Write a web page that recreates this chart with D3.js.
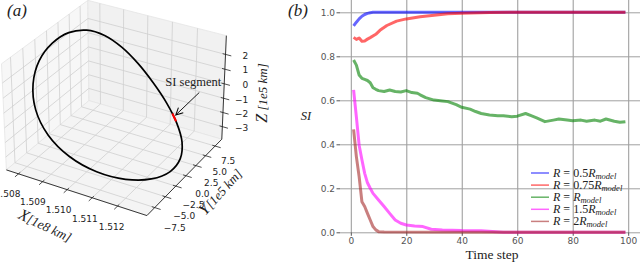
<!DOCTYPE html>
<html>
<head>
<meta charset="utf-8">
<script src="https://cdn.jsdelivr.net/npm/d3@7"></script>
<style>
  body { margin: 0; background: #fff; }
  svg { display: block; }
</style>
</head>
<body>
<div id="chart"></div>
<script>
// ---------- panel (a): orbit in 3D ----------
const xTicks = [1.508, 1.509, 1.510, 1.511, 1.512];      // 1e8 km
const yTicks = [-7.5, -5.0, -2.5, 0.0, 2.5, 5.0, 7.5];   // 1e5 km
const zTicks = [-3, -2, -1, 0, 1, 2];                    // 1e5 km
const xLim = [1.50749, 1.51313];
const yLim = [-9.3, 9.3];
const zLim = [-3.9, 3.25];

// orbit samples (X in 1e8 km, Y/Z in 1e5 km)
const orbitX = [1.51289, 1.51252, 1.51191, 1.51117, 1.51040, 1.50969, 1.50908, 1.50858, 1.50818, 1.50789,
                1.50772, 1.50770, 1.50792, 1.50840, 1.50914, 1.51007, 1.51106, 1.51196, 1.51262, 1.51294];
const orbitY = [0, 2.74, 5.2, 7.16, 8.40, 8.84, 8.40, 7.16, 5.2, 2.74,
                0, -2.76, -5.27, -7.29, -8.60, -9.05, -8.60, -7.29, -5.27, -2.76];
const orbitZ = [-2.838, -2.638, -2.278, -1.725, -0.972, -0.062, 0.902, 1.777, 2.409, 2.676,
                2.521, 1.992, 1.157, 0.166, -0.818, -1.662, -2.289, -2.686, -2.883, -2.924];
// short stretch marked in red
const siX = [1.51185, 1.51171, 1.51157];
const siY = [5.40, 5.81, 6.21];
const siZ = [-2.237, -2.142, -2.039];

// ---------- panel (b): SI over time ----------
const seriesLabels = ["0.5", "0.75", "", "1.5", "2"];
const seriesColors = ["#0000ff", "#ff0000", "#008000", "#ff00ff", "#a52a2a"];
const blueT = [1, 2, 3, 4, 5, 6, 7, 8, 10, 99];
const blueSI = [0.938, 0.955, 0.97, 0.982, 0.99, 0.995, 0.998, 1.0, 1.0, 1.0];
const redT = [1, 2, 3, 4, 5, 6, 7, 9, 10.5, 13, 16.5, 20, 25, 30, 35, 40, 50, 60, 99];
const redSI = [0.886, 0.877, 0.883, 0.868, 0.87, 0.878, 0.885, 0.9, 0.918, 0.94, 0.96, 0.97,
               0.98, 0.987, 0.993, 0.996, 0.999, 1.0, 1.0];
const greenT = [1, 2, 3, 4, 5, 6, 7, 8, 9, 10, 12, 14, 16, 18, 20, 22, 24, 25, 27, 30, 33, 35,
                38, 40, 43, 45, 47, 50, 53, 55, 58, 60, 63, 65, 67, 70, 73, 75, 78, 80, 83, 85,
                88, 90, 92, 95, 97, 99];
const greenSI = [0.783, 0.76, 0.715, 0.70, 0.695, 0.69, 0.68, 0.657, 0.65, 0.644, 0.64, 0.647,
                 0.64, 0.638, 0.644, 0.635, 0.632, 0.625, 0.612, 0.601, 0.597, 0.594, 0.58,
                 0.568, 0.56, 0.549, 0.54, 0.533, 0.53, 0.53, 0.525, 0.528, 0.54, 0.53, 0.52,
                 0.503, 0.51, 0.515, 0.51, 0.507, 0.51, 0.505, 0.51, 0.505, 0.515, 0.505, 0.50,
                 0.503];
const magentaT = [1, 2, 3, 4, 5, 6, 7, 8, 10, 12, 14, 16, 18, 20, 23, 26, 29, 33, 40, 47, 55, 99];
const magentaSI = [0.647, 0.525, 0.396, 0.33, 0.268, 0.225, 0.2, 0.177, 0.147, 0.117, 0.086,
                   0.056, 0.041, 0.033, 0.029, 0.026, 0.014, 0.011, 0.008, 0.007, 0.0, 0.0];
const brownT = [1, 2, 3, 4, 5, 6, 7, 8, 9, 10, 12, 99];
const brownSI = [0.468, 0.344, 0.253, 0.139, 0.117, 0.086, 0.056, 0.026, 0.011, 0.003, 0.001, 0];
const xTicksB = [0, 20, 40, 60, 80, 100];
const yTicksB = [0.0, 0.2, 0.4, 0.6, 0.8, 1.0];

const seriesT = [blueT, redT, greenT, magentaT, brownT];
const seriesSI = [blueSI, redSI, greenSI, magentaSI, brownSI];

const svg = d3.select("#chart").append("svg")
    .attr("width", 640)
    .attr("height", 262)
    .style("font-family", "DejaVu Sans, sans-serif");

const serif = "Liberation Serif, Times New Roman, serif";

// ================= panel (a) =================
const view = { azim: -60, elev: 30, dist: 10, scale: 141, cx: 116, cy: 103 };
const half = [0.571, 0.571, 0.429];
const wx = d3.scaleLinear().domain(xLim).range([-half[0], half[0]]);
const wy = d3.scaleLinear().domain(yLim).range([-half[1], half[1]]);
const wz = d3.scaleLinear().domain(zLim).range([-half[2], half[2]]);

const az = view.azim * Math.PI / 180, el = view.elev * Math.PI / 180;
const rv = [-Math.sin(az), Math.cos(az), 0];
const uv = [-Math.sin(el) * Math.cos(az), -Math.sin(el) * Math.sin(az), Math.cos(el)];
const ev = [Math.cos(el) * Math.cos(az), Math.cos(el) * Math.sin(az), Math.sin(el)];

// perspective projection, roughly matplotlib's default 3d view
function proj(X, Y, Z) {
    const p = [wx(X), wy(Y), wz(Z)];
    const dot = v => p[0] * v[0] + p[1] * v[1] + p[2] * v[2];
    const f = view.dist / (view.dist - dot(ev));
    return [view.cx + view.scale * f * dot(rv), view.cy - view.scale * f * dot(uv)];
}

const ga = svg.append("g");
const [x0, x1] = xLim, [y0, y1] = yLim, [z0, z1] = zLim;

// panes
const panes = [
    { fill: "#f7f7f7", pts: [[x0, y0, z0], [x0, y1, z0], [x0, y1, z1], [x0, y0, z1]] },
    { fill: "#f1f1f1", pts: [[x0, y1, z0], [x1, y1, z0], [x1, y1, z1], [x0, y1, z1]] },
    { fill: "#f4f4f4", pts: [[x0, y0, z0], [x1, y0, z0], [x1, y1, z0], [x0, y1, z0]] }
];
ga.append("g").selectAll("polygon")
    .data(panes)
    .join("polygon")
    .attr("points", d => d.pts.map(p => proj(...p).join(",")).join(" "))
    .attr("fill", d => d.fill)
    .attr("stroke", "#e4e4e4")
    .attr("stroke-width", 0.8);

// grid lines
const gridSegs = [];
xTicks.forEach(X => {
    gridSegs.push([[X, y1, z0], [X, y1, z1]]);
    gridSegs.push([[X, y0, z0], [X, y1, z0]]);
});
yTicks.forEach(Y => {
    gridSegs.push([[x0, Y, z0], [x0, Y, z1]]);
    gridSegs.push([[x0, Y, z0], [x1, Y, z0]]);
});
zTicks.forEach(Z => {
    gridSegs.push([[x0, y0, Z], [x0, y1, Z]]);
    gridSegs.push([[x0, y1, Z], [x1, y1, Z]]);
});
const seg = s => "M" + proj(...s[0]).join(",") + "L" + proj(...s[1]).join(",");
ga.append("g").selectAll("path")
    .data(gridSegs)
    .join("path")
    .attr("d", seg)
    .attr("stroke", "#cfcfcf")
    .attr("stroke-width", 0.8)
    .attr("fill", "none");

// axis lines
const axisSegs = [
    [[x0, y0, z0], [x1, y0, z0]],
    [[x1, y0, z0], [x1, y1, z0]],
    [[x1, y1, z0], [x1, y1, z1]]
];
ga.append("g").selectAll("path")
    .data(axisSegs)
    .join("path")
    .attr("d", seg)
    .attr("stroke", "#222")
    .attr("stroke-width", 0.9);

// ticks
const dy = yLim[1] - yLim[0], dx = xLim[1] - xLim[0];
const xTickSegs = xTicks.map(X => [[X, y0 + 0.02 * dy, z0], [X, y0 - 0.04 * dy, z0]]);
const yTickSegs = yTicks.map(Y => [[x1 - 0.02 * dx, Y, z0], [x1 + 0.04 * dx, Y, z0]]);
const zTickSegs = zTicks.map(Z => [[x1 - 0.02 * dx, y1, Z], [x1 + 0.04 * dx, y1, Z]]);
ga.append("g").selectAll("path")
    .data(xTickSegs.concat(yTickSegs, zTickSegs))
    .join("path")
    .attr("d", seg)
    .attr("stroke", "#222")
    .attr("stroke-width", 0.8);

// tick labels
const minus = s => s.replace("-", "\u2212");
const tickLabels = [];
xTicks.forEach((X, i) => {
    const p = proj(X, y0, z0);
    const o = d3.interpolate([-11, 20], [-6, 21])(i / (xTicks.length - 1));
    tickLabels.push({ x: p[0] + o[0], y: p[1] + o[1], t: d3.format(".3f")(X), anchor: "middle" });
});
yTicks.forEach((Y, i) => {
    const p = proj(x1, Y, z0);
    const o = d3.interpolate([20, 20], [13, 15])(i / (yTicks.length - 1));
    tickLabels.push({ x: p[0] + o[0], y: p[1] + o[1], t: minus(d3.format(".1f")(Y)), anchor: "middle" });
});
const zLabelX = proj(x1, y1, z1)[0] + 22;
zTicks.forEach(Z => {
    const p = proj(x1, y1, Z);
    tickLabels.push({ x: zLabelX, y: p[1] + 1, t: minus(String(Z)), anchor: "end" });
});
ga.append("g").selectAll("text")
    .data(tickLabels)
    .join("text")
    .attr("x", d => d.x)
    .attr("y", d => d.y + 3.3)
    .attr("text-anchor", d => d.anchor)
    .attr("font-size", 9)
    .attr("fill", "#222")
    .text(d => d.t);

// axis titles
function axisTitle(g, x, y, rot, sym, unit) {
    const t = g.append("text")
        .attr("transform", `translate(${x},${y}) rotate(${rot})`)
        .attr("text-anchor", "middle")
        .attr("font-family", serif)
        .attr("font-style", "italic")
        .attr("fill", "#222");
    t.append("tspan").attr("font-size", 16).text(sym);
    t.append("tspan").attr("font-size", 13).text(unit);
}
axisTitle(ga, 43, 230, 25, "X", "[1e8 km]");
axisTitle(ga, 224, 195, -48, "Y", "[1e5 km]");
axisTitle(ga, 267, 93, -90, "Z", " [1e5 km]");

// orbit
const orbitPts = orbitX.map((X, i) => proj(X, orbitY[i], orbitZ[i]));
ga.append("path")
    .attr("d", d3.line().curve(d3.curveCatmullRomClosed)(orbitPts))
    .attr("fill", "none")
    .attr("stroke", "#000")
    .attr("stroke-width", 1.7);

const siPts = siX.map((X, i) => proj(X, siY[i], siZ[i]));
ga.append("path")
    .attr("d", d3.line().curve(d3.curveCatmullRom)(siPts))
    .attr("fill", "none")
    .attr("stroke", "#ff0000")
    .attr("stroke-width", 2.1);

// annotation
const tip = siPts[1];
svg.append("defs").append("marker")
    .attr("id", "arrow")
    .attr("viewBox", "-8 -5 10 10")
    .attr("refX", 0).attr("refY", 0)
    .attr("markerWidth", 10).attr("markerHeight", 10)
    .attr("markerUnits", "userSpaceOnUse")
    .attr("orient", "auto")
    .append("path")
    .attr("d", "M-7,-3.5L0,0L-7,3.5")
    .attr("fill", "none")
    .attr("stroke", "#000")
    .attr("stroke-width", 1);
ga.append("line")
    .attr("x1", tip[0] + 25).attr("y1", tip[1] - 25)
    .attr("x2", tip[0] + 1.5).attr("y2", tip[1] - 2.5)
    .attr("stroke", "#000")
    .attr("stroke-width", 0.9)
    .attr("marker-end", "url(#arrow)");
ga.append("text")
    .attr("x", tip[0] - 9).attr("y", tip[1] - 31)
    .attr("font-family", serif)
    .attr("font-size", 12.5)
    .attr("fill", "#222")
    .text("SI segment");

svg.append("text")
    .attr("x", 7).attr("y", 16)
    .attr("font-family", serif).attr("font-style", "italic")
    .attr("font-size", 17).attr("fill", "#222")
    .text("(a)");

// ================= panel (b) =================
const gb = svg.append("g");
const bx = d3.scaleLinear().domain([-3.9, 103.9]).range([340, 639]);
const by = d3.scaleLinear().domain([0, 1.05]).range([232.3, 1.3]);

// grid
gb.append("g")
    .attr("transform", `translate(0,${by(0)})`)
    .call(d3.axisBottom(bx).tickValues(xTicksB).tickSize(-by(0)).tickFormat(""))
    .call(g => g.select(".domain").remove())
    .call(g => g.selectAll("line").attr("stroke", "#a0a0a0").attr("stroke-width", 1.1));
gb.append("g")
    .attr("transform", `translate(${bx.range()[0]},0)`)
    .call(d3.axisLeft(by).tickValues(yTicksB).tickSize(-(bx.range()[1] - bx.range()[0] + 1)).tickFormat(""))
    .call(g => g.select(".domain").remove())
    .call(g => g.selectAll("line").attr("stroke", "#a0a0a0").attr("stroke-width", 1));

// tick marks and labels
gb.append("g")
    .attr("transform", `translate(0,${by(0)})`)
    .call(d3.axisBottom(bx).tickValues(xTicksB).tickSize(3.5).tickPadding(1.5).tickFormat(d3.format("d")))
    .call(g => g.select(".domain").remove())
    .call(g => g.selectAll("line").attr("stroke", "#555"))
    .call(g => g.selectAll("text").attr("fill", "#555").attr("font-size", 9)
        .attr("font-family", "DejaVu Sans, sans-serif"));
gb.append("g")
    .attr("transform", `translate(${bx.range()[0]},0)`)
    .call(d3.axisLeft(by).tickValues(yTicksB).tickSize(3.5).tickPadding(1.5).tickFormat(d3.format(".1f")))
    .call(g => g.select(".domain").remove())
    .call(g => g.selectAll("line").attr("stroke", "#555"))
    .call(g => g.selectAll("text").attr("fill", "#555").attr("font-size", 9)
        .attr("font-family", "DejaVu Sans, sans-serif"));

// lines
const line = d3.line().x(d => bx(d[0])).y(d => by(d[1]));
gb.append("g").selectAll("path")
    .data(seriesT.map((T, i) => T.map((t, j) => [t, seriesSI[i][j]])))
    .join("path")
    .attr("d", line)
    .attr("fill", "none")
    .attr("stroke", (d, i) => seriesColors[i])
    .attr("stroke-opacity", 0.6)
    .attr("stroke-width", 3)
    .attr("stroke-linejoin", "round");

// labels
gb.append("text")
    .attr("x", 492).attr("y", 259)
    .attr("text-anchor", "middle")
    .attr("font-family", serif)
    .attr("font-size", 13.5)
    .attr("fill", "#222")
    .text("Time step");
gb.append("text")
    .attr("x", 306).attr("y", 120)
    .attr("text-anchor", "middle")
    .attr("font-family", serif)
    .attr("font-style", "italic")
    .attr("font-size", 12.5)
    .attr("fill", "#222")
    .text("SI");
svg.append("text")
    .attr("x", 288).attr("y", 16)
    .attr("font-family", serif).attr("font-style", "italic")
    .attr("font-size", 17).attr("fill", "#222")
    .text("(b)");

// legend
const legend = gb.append("g").attr("transform", "translate(531,173)");
const rows = legend.selectAll("g")
    .data(seriesLabels)
    .join("g")
    .attr("transform", (d, i) => `translate(0,${i * 12.1})`);
rows.append("line")
    .attr("x1", 0).attr("x2", 18)
    .attr("stroke", (d, i) => seriesColors[i])
    .attr("stroke-opacity", 0.6)
    .attr("stroke-width", 1.5);
const lt = rows.append("text")
    .attr("x", 22).attr("y", 3.5)
    .attr("font-family", serif)
    .attr("font-size", 12)
    .attr("fill", "#222");
lt.append("tspan").attr("font-style", "italic").text("R");
lt.append("tspan").text(" = ");
lt.append("tspan").text(d => d);
lt.append("tspan").attr("font-style", "italic").text("R");
lt.append("tspan").attr("font-style", "italic").attr("font-size", 8.5).attr("dy", 2).text("model");
</script>
</body>
</html>
